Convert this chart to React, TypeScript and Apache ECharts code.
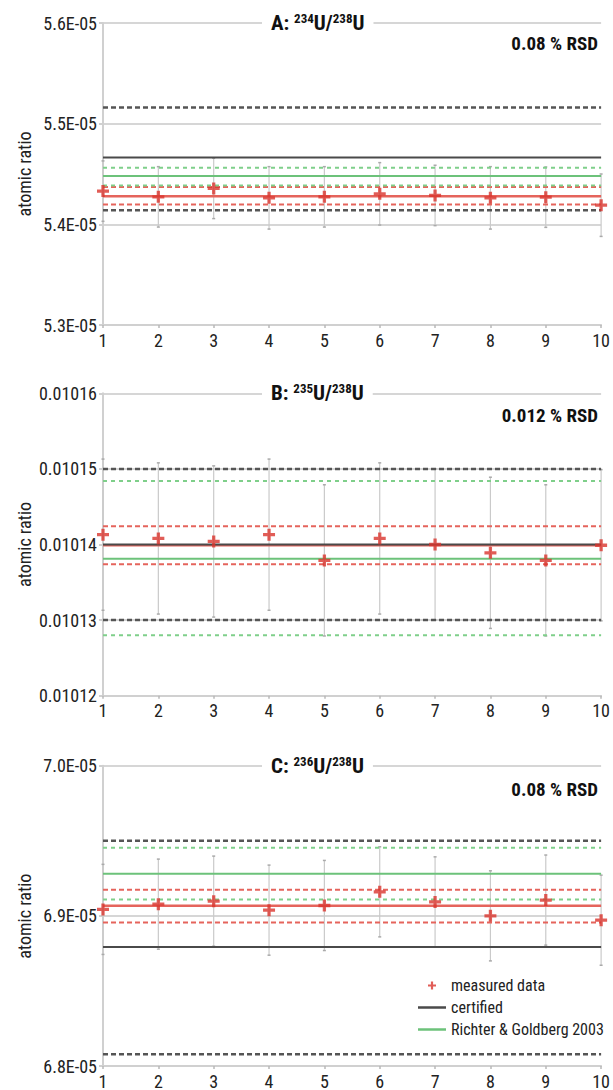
import React, { useEffect, useRef } from 'react';
import * as echarts from 'echarts';

const FONT = "'Liberation Sans Narrow', 'Roboto Condensed', 'DejaVu Sans Condensed', 'Liberation Sans', sans-serif";

const runs = [1, 2, 3, 4, 5, 6, 7, 8, 9, 10];

// Panel A: 234U/238U
const measuredA = [5.433e-5, 5.4273e-5, 5.4357e-5, 5.4263e-5, 5.4273e-5, 5.4303e-5, 5.4287e-5, 5.4263e-5, 5.427e-5, 5.419e-5];
const errorA = [3.0e-7, 3.0e-7, 3.0e-7, 3.1e-7, 3.0e-7, 3.1e-7, 3.0e-7, 3.1e-7, 3.0e-7, 3.1e-7];
const meanA = [5.4197e-5, 5.428e-5, 5.437e-5]; // low, mean, high
const certifiedA = [5.414e-5, 5.4663e-5, 5.516e-5];
const richterA = [5.4387e-5, 5.448e-5, 5.4563e-5];

// Panel B: 235U/238U
const measuredB = [0.0101413, 0.0101408, 0.0101404, 0.0101413, 0.0101379, 0.0101408, 0.01014, 0.0101389, 0.0101379, 0.0101399];
const errorB = [1.0e-5, 1.0e-5, 1.0e-5, 1.0e-5, 1.0e-5, 1.0e-5, 1.0e-5, 1.0e-5, 1.0e-5, 1.0e-5];
const meanB = [0.0101374, 0.0101399, 0.0101424];
const certifiedB = [0.01013, 0.01014, 0.01015];
const richterB = [0.010128, 0.0101381, 0.0101484];

// Panel C: 236U/238U
const measuredC = [6.9043e-5, 6.9078e-5, 6.9098e-5, 6.9038e-5, 6.9069e-5, 6.916e-5, 6.9093e-5, 6.9e-5, 6.9105e-5, 6.8971e-5];
const errorC = [3.0e-7, 3.0e-7, 3.0e-7, 3.0e-7, 3.0e-7, 3.0e-7, 3.0e-7, 3.0e-7, 3.0e-7, 3.0e-7];
const meanC = [6.8956e-5, 6.9067e-5, 6.9173e-5];
const certifiedC = [6.8078e-5, 6.8793e-5, 6.95e-5];
const richterC = [6.9109e-5, 6.928e-5, 6.9453e-5];

const titlesSup = [['A', '234', '238'], ['B', '235', '238'], ['C', '236', '238']];
const rsdLabels = ['0.08 % RSD', '0.012 % RSD', '0.08 % RSD'];
const yMins = [5.3e-5, 0.01012, 6.8e-5];
const yMaxs = [5.6e-5, 0.01016, 7.0e-5];
const yIntervals = [1e-6, 1e-5, 1e-6];
const yAxisName = 'atomic ratio';
const legendNames = ['measured data', 'certified', 'Richter & Goldberg 2003'];

const gridTops = [23, 393.3, 765.7];
const gridHeights = [302, 302.4, 301];

const RED = '#d9342d';
const RED_LINE = '#e5645c';
const GREEN = '#6cc27a';
const BLACK = '#4a4a4a';
const PLUS = 'path://M4,0h3v4h4v3h-4v4h-3v-4h-4v-3h4z';
const LINE_ICON = 'path://M0,0H28V2.5H0Z';

const expFmt = (v: number) => (v * 1e5).toFixed(1) + 'E-05';
const fixFmt = (v: number) => v.toFixed(5);
const formatters = [expFmt, fixFmt, expFmt];

function hLine(name: string, value: number, gi: number, color: string, width: number, type: any, z = 2) {
  return {
    type: 'line',
    name,
    xAxisIndex: gi,
    yAxisIndex: gi,
    data: [[1, value], [10, value]],
    symbol: 'none',
    silent: true,
    z,
    itemStyle: { color },
    lineStyle: { color, width, type },
  };
}

export default function App() {
  const ref = useRef<HTMLDivElement>(null);
  useEffect(() => {
    if (!ref.current) return;
    const chart = echarts.init(ref.current, undefined, { renderer: 'svg' });
    const panels = [
      { m: measuredA, e: errorA, mean: meanA, cert: certifiedA, rich: richterA },
      { m: measuredB, e: errorB, mean: meanB, cert: certifiedB, rich: richterB },
      { m: measuredC, e: errorC, mean: meanC, cert: certifiedC, rich: richterC },
    ];
    const grids: any[] = [];
    const xAxes: any[] = [];
    const yAxes: any[] = [];
    const series: any[] = [];
    const titles: any[] = [];
    const graphics: any[] = [];
    panels.forEach((p, gi) => {
      grids.push({ left: 103, right: 11.5, top: gridTops[gi], height: gridHeights[gi] });
      xAxes.push({
        gridIndex: gi,
        type: 'value',
        min: 1,
        max: 10,
        interval: 1,
        axisLine: { show: true, onZero: false, lineStyle: { color: '#d0d0d0', width: 2 } },
        axisTick: { show: true, length: 3, lineStyle: { color: '#b8b8b8', width: 1.5 } },
        axisLabel: { fontSize: 18, margin: 6, color: '#222', fontFamily: FONT },
        splitLine: { show: false },
      });
      yAxes.push({
        gridIndex: gi,
        type: 'value',
        min: yMins[gi],
        max: yMaxs[gi],
        interval: yIntervals[gi],
        axisLine: { show: true, lineStyle: { color: '#d0d0d0', width: 2 } },
        axisTick: { show: true, length: 4, lineStyle: { color: '#d0d0d0', width: 2 } },
        axisLabel: { fontSize: 18, margin: 6, color: '#222', fontFamily: FONT, formatter: formatters[gi] },
        splitLine: { show: true, lineStyle: { color: '#d6d6d6', width: 2 } },
      });
      // error bars
      series.push({
        type: 'custom',
        name: 'error',
        xAxisIndex: gi,
        yAxisIndex: gi,
        silent: true,
        z: 1,
        data: runs.map((r, i) => [r, p.m[i] - p.e[i], p.m[i] + p.e[i]]),
        encode: { x: 0, y: [1, 2] },
        renderItem: (params: any, api: any) => {
          const x = api.value(0);
          const top = api.coord([x, api.value(2)]);
          const bot = api.coord([x, api.value(1)]);
          const st = { stroke: '#cacaca', lineWidth: 1.2 };
          const cap = { stroke: '#aaaaaa', lineWidth: 1.5 };
          return {
            type: 'group',
            children: [
              { type: 'line', shape: { x1: top[0], y1: top[1], x2: bot[0], y2: bot[1] }, style: st },
              { type: 'line', shape: { x1: top[0] - 1.5, y1: top[1], x2: top[0] + 1.5, y2: top[1] }, style: cap },
              { type: 'line', shape: { x1: bot[0] - 1.5, y1: bot[1], x2: bot[0] + 1.5, y2: bot[1] }, style: cap },
            ],
          };
        },
      });
      // measured mean band (red)
      series.push(hLine('mean low ' + gi, p.mean[0], gi, RED_LINE, 2, [5, 3]));
      series.push(hLine('mean high ' + gi, p.mean[2], gi, RED_LINE, 2, [5, 3]));
      series.push(hLine('mean ' + gi, p.mean[1], gi, RED_LINE, 2.5, 'solid'));
      // Richter & Goldberg 2003 (green)
      series.push(hLine('R&G low ' + gi, p.rich[0], gi, '#7fcf8a', 2, [4, 4]));
      series.push(hLine('R&G high ' + gi, p.rich[2], gi, '#7fcf8a', 2, [4, 4]));
      series.push(hLine('Richter & Goldberg 2003', p.rich[1], gi, GREEN, 2, 'solid'));
      // certified (black)
      series.push(hLine('cert low ' + gi, p.cert[0], gi, '#555', 2.5, [5, 3]));
      series.push(hLine('cert high ' + gi, p.cert[2], gi, '#555', 2.5, [5, 3]));
      series.push(hLine('certified', p.cert[1], gi, BLACK, 2, 'solid'));
      // measured data
      series.push({
        type: 'scatter',
        name: 'measured data',
        xAxisIndex: gi,
        yAxisIndex: gi,
        data: runs.map((r, i) => [r, p.m[i]]),
        symbol: PLUS,
        symbolSize: 12,
        clip: false,
        z: 4,
        itemStyle: { color: RED },
      });
      const [letter, s1, s2] = titlesSup[gi];
      titles.push({
        text: `{b|${letter}: }{s|${s1}}{b|U/}{s|${s2}}{b|U}`,
        left: 262,
        top: gridTops[gi] - 12,
        padding: [1, 9],
        backgroundColor: '#fff',
        textStyle: {
          rich: {
            b: { fontSize: 21, fontWeight: 'bold', fontFamily: FONT, color: '#111', lineHeight: 22 },
            s: { fontSize: 13, fontWeight: 'bold', fontFamily: FONT, color: '#111', lineHeight: 14, verticalAlign: 'top' },
          },
        },
      });
      titles.push({
        text: rsdLabels[gi],
        right: 15,
        top: gridTops[gi] + [20, 22, 24][gi] - 10,
        padding: 0,
        textStyle: { fontSize: 19, fontWeight: 'bold', fontFamily: FONT, color: '#111', lineHeight: 20 },
      });
      graphics.push({
        type: 'text',
        x: 24,
        y: gridTops[gi] + gridHeights[gi] / 2,
        rotation: Math.PI / 2,
        style: { text: yAxisName, fontSize: 18, fontFamily: FONT, fill: '#222', textAlign: 'center', textVerticalAlign: 'middle' },
      });
    });

    chart.setOption({
      animation: false,
      backgroundColor: '#fff',
      title: titles,
      grid: grids,
      xAxis: xAxes,
      yAxis: yAxes,
      series,
      graphic: graphics,
      legend: {
        orient: 'vertical',
        left: 413,
        top: 972,
        itemWidth: 28,
        itemHeight: 8,
        itemGap: 5,
        selectedMode: false,
        data: [
          { name: legendNames[0], icon: PLUS, itemStyle: { color: RED } },
          { name: legendNames[1], icon: LINE_ICON, itemStyle: { color: BLACK } },
          { name: legendNames[2], icon: LINE_ICON, itemStyle: { color: GREEN } },
        ],
        textStyle: { fontSize: 16, fontFamily: FONT, color: '#222', lineHeight: 17 },
      },
    });
    return () => chart.dispose();
  }, []);
  return <div ref={ref} style={{ position: 'absolute', left: 0, top: 0, width: 613, height: 1090 }} />;
}
